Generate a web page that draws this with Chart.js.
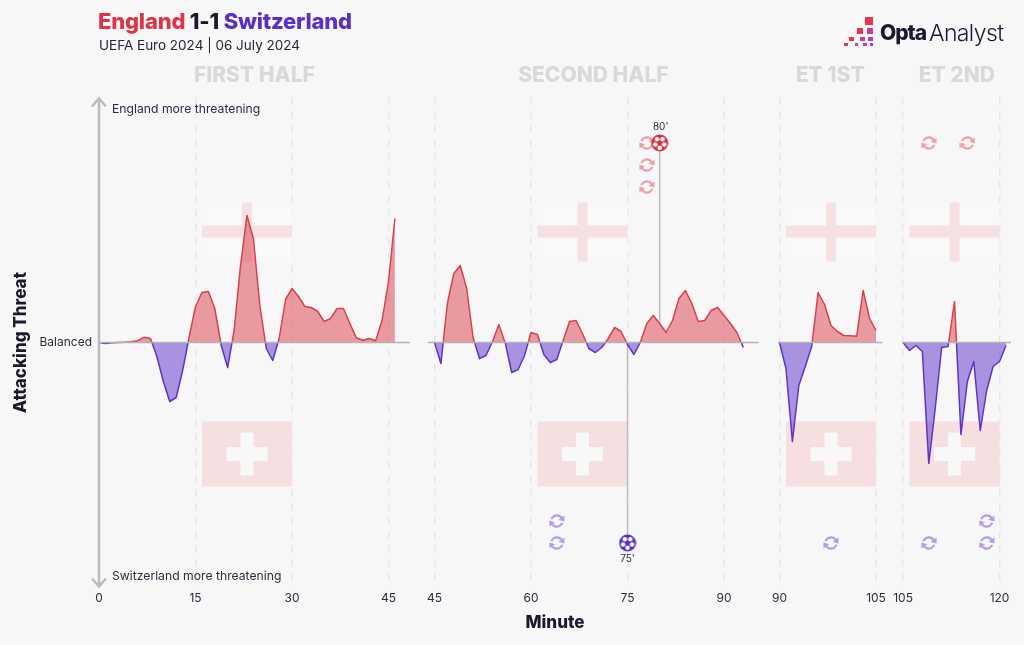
<!DOCTYPE html>
<html>
<head>
<meta charset="utf-8">
<title>England 1-1 Switzerland</title>
<script src="https://cdn.jsdelivr.net/npm/chart.js@4"></script>
<style>
  body { margin: 0; background: #f7f7f8; font-family: Inter, sans-serif; color: #1d1730; }
  #wrap { position: relative; width: 1024px; height: 645px; overflow: hidden; }
  canvas#myChart { position: absolute; left: 0; top: 0; }
  .txt { position: absolute; white-space: nowrap; }
  #headline { left: 98px; top: 8px; font-size: 22px; font-weight: 800; line-height: 27px; letter-spacing: -0.2px; }
  #subline { left: 99px; top: 36px; font-size: 13.5px; line-height: 18px; color: #2a2438; }
  #logoA { left: 880px; top: 18px; font-size: 21px; font-weight: 800; line-height: 30px; letter-spacing: -1px; }
  #logoB { left: 929px; top: 18px; font-size: 23px; font-weight: 300; line-height: 30px; letter-spacing: -0.6px; }
  #logoMark { position: absolute; left: 840px; top: 14px; }
</style>
</head>
<body>
<div id="wrap">
  <canvas id="myChart" width="1024" height="645"></canvas>
  <div class="txt" id="headline"><span style="color:#dc3545">England</span> 1-1 <span style="color:#5b2fc4">Switzerland</span></div>
  <div class="txt" id="subline">UEFA Euro 2024 | 06 July 2024</div>
  <svg id="logoMark" width="36" height="36">
    <rect x="25" y="3" width="8" height="8" fill="#e8344f"/>
    <rect x="17" y="14" width="6" height="6" fill="#e8344f"/>
    <rect x="27" y="14" width="6" height="6" fill="#c93b9b"/>
    <rect x="9" y="23" width="5" height="4" fill="#e8344f"/>
    <rect x="20" y="23" width="5" height="4" fill="#c93b9b"/>
    <rect x="28" y="23" width="5" height="4" fill="#b03cd0"/>
    <rect x="4" y="29" width="4" height="3" fill="#e8344f"/>
    <rect x="15" y="29" width="3" height="3" fill="#c93b9b"/>
    <rect x="23" y="29" width="4" height="3" fill="#b03cd0"/>
    <rect x="30" y="29" width="3" height="3" fill="#b03cd0"/>
  </svg>
  <div class="txt" id="logoA">Opta</div>
  <div class="txt" id="logoB">Analyst</div>
</div>

<script>
// threat per minute. positive = England, negative = Switzerland
const firstHalfThreat = [0, -1, -0.3, 0, 0.3, 0.7, 1.7, 5.3, 4, -14, -39, -59, -55, -28, 5, 36, 50, 51, 34, -3, -25, 12, 77, 127, 104, 37, -6, -18, 4, 43, 54, 46, 36, 35, 31, 21, 24, 34, 34, 19, 4.7, 2.3, 4, 1.7, 22, 61, 124];
const secondHalfThreat = [0, -21, 39, 69, 77, 54, 5, -16, -13, 0.7, 18, -0.7, -30, -27, -13, 10, 8, -12, -20, -17, 2, 21, 22, 9, -6, -10, -5, 4, 15, 11, -2, -12, 0.3, 19, 27, 19, 10, 22, 44, 52, 39, 21, 22, 32, 35, 27, 19, 10, -5];
const extraFirstThreat = [0, -26, -99, -43, -24, -4, 50, 38, 17, 11, 7, 6.7, 6.3, 52, 24, 12];
const extraSecondThreat = [0, -8, -3, -9, -121, -66, -5, -4, 41, -92, -39, -19, -88, -48, -24, -19, -3];

const periodNames = ["FIRST HALF", "SECOND HALF", "ET 1ST", "ET 2ND"];
const periodStarts = [0, 45, 90, 105];
const flagEnds = [30, 75, 105, 120];
const periodThreats = [firstHalfThreat, secondHalfThreat, extraFirstThreat, extraSecondThreat];

const tickMinutes = [[0, 15, 30, 45], [45, 60, 75, 90], [90, 105], [105, 120]];

const englandSubMinutes = [78, 78, 78, 109, 115];
const englandSubPeriods = [1, 1, 1, 3, 3];
const englandSubLevels = [199.5, 177.5, 155.5, 199.5, 199.5];
const swissSubMinutes = [64, 64, 98, 109, 118, 118];
const swissSubPeriods = [1, 1, 2, 3, 3, 3];
const swissSubLevels = [-178.5, -200.5, -200.5, -200.5, -178.5, -200.5];

const englandGoalMinute = 80;
const englandGoalLevel = 199.5;
const swissGoalMinute = 75;
const swissGoalLevel = -200.5;

// the four periods share one x scale, each one pushed along by a gap
const periodShift = [0, 7.15, 15.78, 19.98];
const baselineFrom = [0, 44, 89.75, 104.8];
const baselineTo = [48.3, 95.4, 106, 121.9];

const RED = "#d8404e";
const PURPLE = "#5f33c6";
const TXT = "#2f2a3d";
const FONT = "Inter, sans-serif";

const px = (period, minute) => minute + periodShift[period];

const tickPositions = [];
const tickNames = {};
tickMinutes.forEach((list, p) => list.forEach(m => {
  tickPositions.push(px(p, m));
  tickNames[px(p, m)] = String(m);
}));

function subIcon(color) {
  const c = document.createElement("canvas");
  c.width = 16; c.height = 16;
  const g = c.getContext("2d");
  g.strokeStyle = color; g.fillStyle = color; g.lineWidth = 2.2;
  g.beginPath(); g.arc(8, 8, 5.7, Math.PI * 1.1, Math.PI * 1.85); g.stroke();
  g.beginPath(); g.arc(8, 8, 5.7, Math.PI * 0.1, Math.PI * 0.85); g.stroke();
  g.beginPath(); g.moveTo(15.5, 2.5); g.lineTo(15.5, 8.5); g.lineTo(9.8, 6.8); g.closePath(); g.fill();
  g.beginPath(); g.moveTo(0.5, 13.5); g.lineTo(0.5, 7.5); g.lineTo(6.2, 9.2); g.closePath(); g.fill();
  return c;
}

function ballIcon(color) {
  const c = document.createElement("canvas");
  c.width = 18; c.height = 18;
  const g = c.getContext("2d");
  g.fillStyle = color;
  g.beginPath(); g.arc(9, 9, 8.5, 0, Math.PI * 2); g.fill();
  // white patches round a coloured middle
  g.fillStyle = "#fff";
  for (let i = 0; i < 5; i++) {
    const a = -Math.PI / 2 + Math.PI / 5 + i * Math.PI * 2 / 5;
    g.beginPath(); g.arc(9 + 4.7 * Math.cos(a), 9 + 4.7 * Math.sin(a), 2.2, 0, Math.PI * 2); g.fill();
  }
  return c;
}

function splitLine(ctx) {
  const chart = ctx.chart;
  const area = chart.chartArea;
  if (!area) return RED;
  const grad = chart.ctx.createLinearGradient(0, area.top, 0, area.bottom);
  const stop = (chart.scales.y.getPixelForValue(0) - area.top) / (area.bottom - area.top);
  grad.addColorStop(0, RED);
  grad.addColorStop(stop, RED);
  grad.addColorStop(stop, PURPLE);
  grad.addColorStop(1, PURPLE);
  return grad;
}

const datasets = [];

// goal stems go first so the balls sit on top
datasets.push({
  data: [
    { x: px(1, englandGoalMinute), y: englandGoalLevel },
    { x: px(1, englandGoalMinute), y: secondHalfThreat[englandGoalMinute - 45] }
  ],
  borderColor: "#bdbdbd", borderWidth: 1.5, pointRadius: 0, order: 5
});
datasets.push({
  data: [
    { x: px(1, swissGoalMinute), y: swissGoalLevel },
    { x: px(1, swissGoalMinute), y: 0 }
  ],
  borderColor: "#bdbdbd", borderWidth: 1.5, pointRadius: 0, order: 5
});

periodThreats.forEach((threat, p) => {
  datasets.push({
    data: threat.map((v, i) => ({ x: px(p, periodStarts[p] + i), y: v })),
    borderColor: splitLine,
    borderWidth: 1.5,
    borderJoinStyle: "round",
    pointRadius: 0,
    tension: 0,
    fill: { target: { value: 0 }, above: "rgba(220,60,72,0.5)", below: "rgba(92,45,200,0.5)" },
    order: 3
  });
  datasets.push({
    data: [{ x: px(p, baselineFrom[p]), y: 0 }, { x: px(p, baselineTo[p]), y: 0 }],
    borderColor: "#b4b4b8", borderWidth: 1.5, pointRadius: 0, order: 2
  });
});

datasets.push({
  data: englandSubMinutes.map((m, i) => ({ x: px(englandSubPeriods[i], m), y: englandSubLevels[i] })),
  showLine: false, pointStyle: subIcon("#ee9ea4"), order: 1
});
datasets.push({
  data: swissSubMinutes.map((m, i) => ({ x: px(swissSubPeriods[i], m), y: swissSubLevels[i] })),
  showLine: false, pointStyle: subIcon("#b49ae8"), order: 1
});
datasets.push({
  data: [{ x: px(1, englandGoalMinute), y: englandGoalLevel }],
  showLine: false, pointStyle: ballIcon("#d5303f"), order: 0
});
datasets.push({
  data: [{ x: px(1, swissGoalMinute), y: swissGoalLevel }],
  showLine: false, pointStyle: ballIcon("#5b2fc4"), order: 0
});

// flags sit behind the areas
const flagsPlugin = {
  id: "flags",
  beforeDatasetsDraw(chart) {
    const { ctx, scales: { x, y } } = chart;
    ctx.save();
    flagEnds.forEach((end, p) => {
      const r = x.getPixelForValue(px(p, end));
      const l = x.getPixelForValue(px(p, end - 14));
      const mid = (l + r) / 2;
      // England
      const t = y.getPixelForValue(140), b = y.getPixelForValue(81);
      const cy = y.getPixelForValue(111);
      ctx.fillStyle = "#f9f9f9";
      ctx.fillRect(l, t, r - l, b - t);
      ctx.fillStyle = "#f5e0e2";
      ctx.fillRect(l, cy - 6, r - l, 12);
      ctx.fillRect(mid - 5, t, 10, b - t);
      // Switzerland
      const st = y.getPixelForValue(-79), sb = y.getPixelForValue(-144);
      const sy = y.getPixelForValue(-111.5);
      ctx.fillStyle = "#f5dfe0";
      ctx.fillRect(l, st, r - l, sb - st);
      ctx.fillStyle = "#f8f8f8";
      ctx.fillRect(mid - 20.5, sy - 7, 41, 14);
      ctx.fillRect(mid - 6.5, sy - 21.5, 13, 43);
    });
    ctx.restore();
  },
  afterDatasetsDraw(chart) {
    const { ctx, chartArea: area, scales: { x, y } } = chart;
    ctx.save();

    // period headers
    ctx.font = "800 21px " + FONT;
    ctx.fillStyle = "#d9d9d9";
    ctx.textAlign = "center";
    ctx.textBaseline = "middle";
    periodNames.forEach((name, p) => {
      const l = x.getPixelForValue(px(p, baselineFrom[p]));
      const r = x.getPixelForValue(px(p, baselineTo[p]));
      ctx.fillText(name, (l + r) / 2, 76);
    });

    // threat arrow
    const ax = x.getPixelForValue(0);
    ctx.strokeStyle = "#bbbbbb";
    ctx.lineWidth = 2.5;
    ctx.beginPath();
    ctx.moveTo(ax, area.top + 1);
    ctx.lineTo(ax, area.bottom - 1);
    ctx.moveTo(ax - 7, area.top + 9);
    ctx.lineTo(ax, area.top + 1);
    ctx.lineTo(ax + 7, area.top + 9);
    ctx.moveTo(ax - 7, area.bottom - 9);
    ctx.lineTo(ax, area.bottom - 1);
    ctx.lineTo(ax + 7, area.bottom - 9);
    ctx.stroke();

    ctx.font = "12.2px " + FONT;
    ctx.fillStyle = TXT;
    ctx.textAlign = "left";
    ctx.fillText("England more threatening", ax + 13, area.top + 12);
    ctx.fillText("Switzerland more threatening", ax + 13, area.bottom - 11);

    // goal minutes
    ctx.font = "10px " + FONT;
    ctx.textAlign = "center";
    ctx.fillText(englandGoalMinute + "'", x.getPixelForValue(px(1, englandGoalMinute)) + 1, y.getPixelForValue(englandGoalLevel) - 16);
    ctx.fillText(swissGoalMinute + "'", x.getPixelForValue(px(1, swissGoalMinute)), y.getPixelForValue(swissGoalLevel) + 16);
    ctx.restore();
  }
};

new Chart(document.getElementById("myChart"), {
  type: "line",
  data: { datasets: datasets },
  plugins: [flagsPlugin],
  options: {
    responsive: false,
    animation: false,
    parsing: false,
    normalized: true,
    layout: { padding: { left: 0, right: 13, top: 97.5, bottom: 0 } },
    plugins: { legend: { display: false }, tooltip: { enabled: false } },
    elements: { point: { radius: 8 } },
    scales: {
      x: {
        type: "linear",
        min: 0,
        max: 141.76,
        afterBuildTicks(scale) { scale.ticks = tickPositions.map(v => ({ value: v })); },
        afterFit(scale) { scale.height = 57.5; },
        ticks: {
          autoSkip: false,
          maxRotation: 0,
          padding: 4,
          color: TXT,
          font: { family: FONT, size: 12 },
          callback: v => tickNames[v]
        },
        grid: {
          drawTicks: false,
          lineWidth: 1.4,
          color: ctx => ctx.index === 0 ? "rgba(0,0,0,0)" : "#e6e6e6"
        },
        border: { display: false, dash: [7, 7] },
        title: {
          display: true,
          text: "Minute",
          color: "#1d1730",
          padding: { top: 0, bottom: 12 },
          font: { family: FONT, size: 17, weight: "800" }
        }
      },
      y: {
        type: "linear",
        min: -245,
        max: 245,
        afterBuildTicks(scale) { scale.ticks = [{ value: 0 }]; },
        afterFit(scale) { scale.width = 99; },
        ticks: {
          padding: 7,
          color: TXT,
          font: { family: FONT, size: 12 },
          callback: () => "Balanced"
        },
        grid: { display: false, drawTicks: false },
        border: { display: false },
        title: {
          display: true,
          text: "Attacking Threat",
          color: "#1d1730",
          padding: { top: 11, bottom: 0 },
          font: { family: FONT, size: 17, weight: "800" }
        }
      }
    }
  }
});
</script>
</body>
</html>
